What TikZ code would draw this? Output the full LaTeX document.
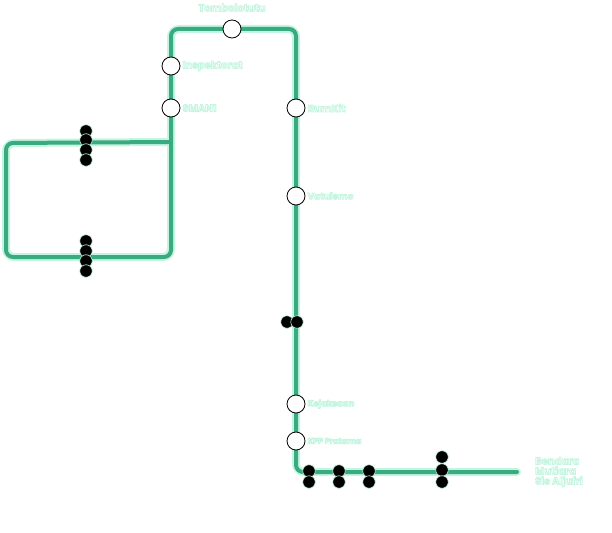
\documentclass[tikz,border=0pt]{standalone}
\usepackage{fontspec}
\newfontfamily\lblfont{Poppins}
\usetikzlibrary{positioning}
\definecolor{trackgreen}{RGB}{58,170,128}
\definecolor{glow}{RGB}{196,245,224}
%% white letters with a mint edge
\newcommand\glowtext[1]{\special{pdf:literal direct 2 Tr 0.9 w 0.77 0.96 0.88 RG}#1\special{pdf:literal direct 0 Tr 0.4 w}}

\begin{document}
\begin{tikzpicture}[x=1pt, y=-1pt,
	station/.style={circle, draw=black, fill=white, line width=0.8pt, minimum size=18pt, inner sep=0pt},
	stopdot/.style={circle, fill=black, draw=glow, line width=0.6pt, minimum size=12.5pt, inner sep=0pt},
	lbl/.style={font=\lblfont\bfseries\fontsize{10}{10}\selectfont, text=white, inner sep=0pt}]
				\useasboundingbox (0,0) rectangle (612,532);
				%% corners of the track
				\coordinate (tl) at (171,29);
				\coordinate (tr) at (296,29);
				\coordinate (br) at (296,472);
				\coordinate (end) at (517,472);
				\coordinate (junc) at (171,142);
				\coordinate (lt) at (6,143);
				\coordinate (lb) at (6,257);
				\coordinate (lr) at (171,257);
				\draw [glow, line width=8pt, rounded corners=8pt, line cap=round] (junc) -- (lt) -- (lb) -- (lr) -- (tl) -- (tr) -- (br) -- (end);
				\draw [trackgreen, line width=4pt, rounded corners=7pt, line cap=round] (junc) -- (lt) -- (lb) -- (lr) -- (tl) -- (tr) -- (br) -- (end);
				
				%% stops on the loop and the line
				\foreach \y in {131, 140, 150, 160, 241, 251, 261, 271} \node [stopdot] at (86,\y) {};
				\node [stopdot] (s1) at (287,322) {};
				\node [stopdot] (s2) at (297,322) {};
				\foreach \x in {309, 339, 369} {
					\node [stopdot] at (\x,471) {};
					\node [stopdot] at (\x,482) {};
				}
				\foreach \y in {457, 470, 482} \node [stopdot] at (442,\y) {};
				
				%% stations
				\node [station] (tom) at (232,29) {};
				\node [station] (ins) at (171,66) {};
				\node [station] (sma) at (171,108) {};
				\node [station] (rum) at (296,108) {};
				\node [station] (vat) at (296,196) {};
				\node [station] (kej) at (296,404) {};
				\node [station] (kpp) at (296,441) {};
				
				\node [lbl, above=8pt of tom] {\glowtext{Tombolotutu}};
				\node [lbl, right=2pt of ins] {\glowtext{Inspektorat}};
				\node [lbl, right=2pt of sma] {\glowtext{SMAN1}};
				\node [lbl, right=2pt of rum] {\glowtext{RumKit}};
				\node [lbl, right=2pt of vat, font=\lblfont\bfseries\fontsize{9}{9}\selectfont] {\glowtext{Vatulemo}};
				\node [lbl, right=2pt of kej, font=\lblfont\bfseries\fontsize{8.5}{9}\selectfont] {\glowtext{Kejaksaan}};
				\node [lbl, right=2pt of kpp, font=\lblfont\bfseries\fontsize{8}{9}\selectfont] {\glowtext{KPP Pratama}};
				\node [lbl, align=left, right=18pt of end] {\glowtext{Bendara}\\\glowtext{Mutiara}\\\glowtext{Sis Aljufri}};
				\end{tikzpicture}
\end{document}
